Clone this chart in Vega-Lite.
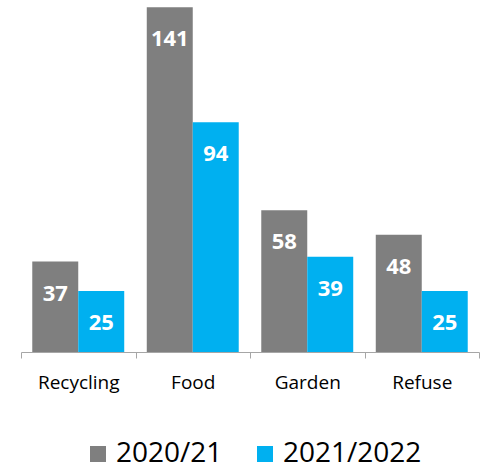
{
  "$schema": "https://vega.github.io/schema/vega-lite/v6.json",
  "width": 458,
  "height": 352,
  "autosize": {"type": "none"},
  "padding": {"left": 21, "top": 0, "right": 6, "bottom": 119},
  "background": "white",
  "data": {"values": [
    {"category": "Recycling", "year": "2020/21", "value": 37},
    {"category": "Recycling", "year": "2021/2022", "value": 25},
    {"category": "Food", "year": "2020/21", "value": 141},
    {"category": "Food", "year": "2021/2022", "value": 94},
    {"category": "Garden", "year": "2020/21", "value": 58},
    {"category": "Garden", "year": "2021/2022", "value": 39},
    {"category": "Refuse", "year": "2020/21", "value": 48},
    {"category": "Refuse", "year": "2021/2022", "value": 25}
  ]},
  "encoding": {
    "x": {"field": "category", "type": "nominal", "sort": ["Recycling", "Food", "Garden", "Refuse"],
      "scale": {"paddingInner": 0, "paddingOuter": 0},
      "axis": {"title": null, "labelAngle": 0, "tickBand": "extent", "domainColor": "#a6a6a6", "tickColor": "#a6a6a6", "tickSize": 6, "labelPadding": 15, "labelFont": "Open Sans", "labelFontSize": 19, "labelColor": "#000000", "grid": false}},
    "xOffset": {"field": "year", "type": "nominal", "scale": {"paddingInner": 0, "paddingOuter": 0.245}},
    "y": {"field": "value", "type": "quantitative", "scale": {"domain": [0, 144], "nice": false}, "axis": null}
  },
  "layer": [
    {"mark": {"type": "bar"},
     "encoding": {"color": {"field": "year", "type": "nominal",
       "scale": {"domain": ["2020/21", "2021/2022"], "range": ["#7f7f7f", "#00b0f0"]},
       "legend": {"title": null, "orient": "none", "legendX": 63, "legendY": 440, "direction": "horizontal", "symbolType": "square", "symbolSize": 256, "symbolStrokeWidth": 0, "labelFont": "Open Sans", "labelFontSize": 28, "labelColor": "#000000", "columnPadding": 28, "symbolOffset": 0, "labelOffset": 4}}}},
    {"mark": {"type": "text", "color": "white", "font": "Open Sans", "fontWeight": "bold", "fontSize": 22, "baseline": "middle", "dy": 32},
     "encoding": {"text": {"field": "value", "type": "quantitative"}}}
  ],
  "config": {"view": {"stroke": null}}
}
